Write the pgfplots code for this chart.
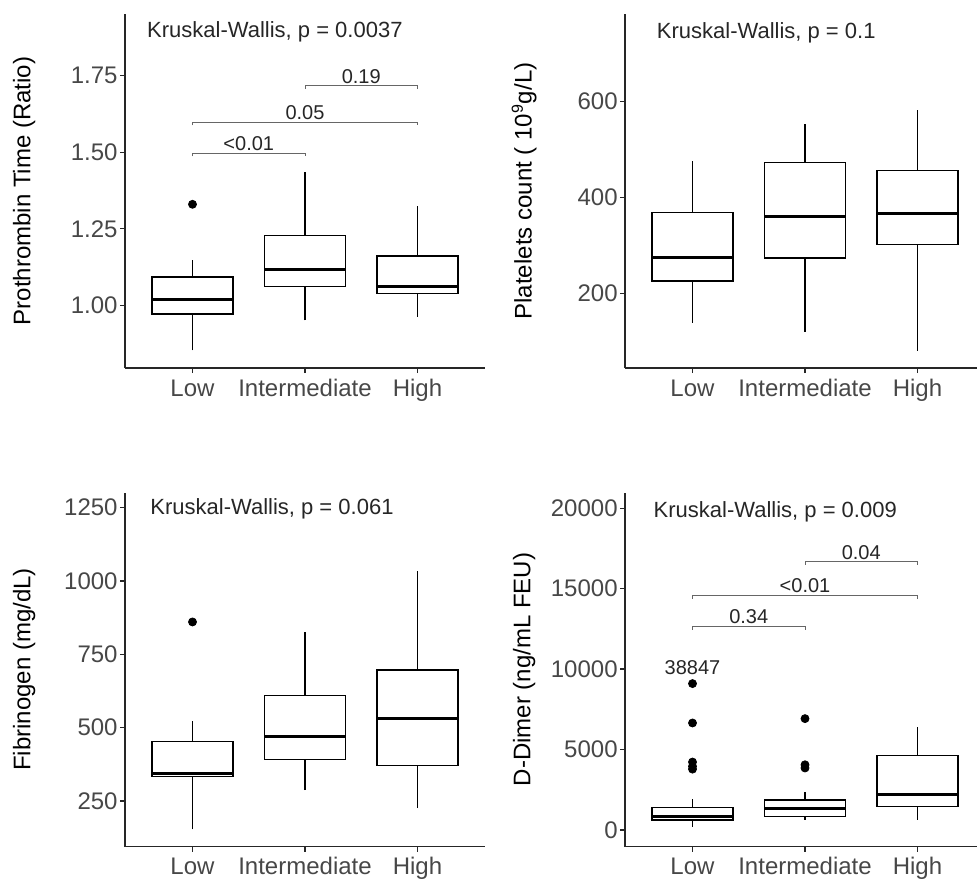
\documentclass[border=0pt]{standalone}
\usepackage{fontspec}
\setmainfont{Liberation Sans}
\usepackage{pgfplots}
\pgfplotsset{compat=1.18}

\pgfplotsset{
  panel/.style={
    scale only axis, width=180pt, height=177pt,
    axis x line*=bottom, axis y line*=left,
    axis line style={line width=0.7pt, black!85},
    tick align=outside, major tick length=2.5pt,
    tick style={line width=0.7pt, black!85},
    xmin=0.4, xmax=3.6, xtick={1,2,3}, xticklabels={Low,Intermediate,High},
    ticklabel style={font=\fontsize{12}{14}\selectfont, text=black!72},
    xticklabel style={text height=8.8pt, text depth=0pt, inner ysep=2.5pt},
    yticklabel style={inner xsep=1pt},
    every axis y label/.style={at={(axis description cs:-0.28,0.5)}, rotate=90, anchor=center,
      font=\fontsize{12}{14}\selectfont},
    /pgf/number format/assume math mode=true,
    /pgf/number format/1000 sep={},
    scaled y ticks=false,
    clip=false,
  },
  bx/.style={black, line width=0.7pt, solid, mark=none},
  med/.style={black, line width=1.5pt, solid, mark=none},
  outl/.style={only marks, mark=*, mark size=2pt, black},
  brk/.style={black!60, line width=0.5pt, mark=none},
}
\tikzset{
  kw/.style={anchor=west, font=\fontsize{11}{13}\selectfont, text=black!85},
  pv/.style={anchor=south, inner sep=1pt, font=\fontsize{10}{12}\selectfont, text=black!85},
}
% box: left, centre, right, lower whisker, Q1, median, Q3, upper whisker
\newcommand{\bxp}[8]{%
  \addplot[bx, line cap=rect] coordinates {(#1,#5) (#3,#5) (#3,#7) (#1,#7) (#1,#5)};
  \addplot[bx] coordinates {(#2,#4) (#2,#5)};
  \addplot[bx] coordinates {(#2,#7) (#2,#8)};
  \addplot[med] coordinates {(#1,#6) (#3,#6)};
}

\begin{document}
\begin{tikzpicture}
\useasboundingbox (0,0) rectangle (488.5pt,439.5pt);

% Prothrombin time
\begin{axis}[panel, at={(62.5pt,255.5pt)}, anchor=south west,
  ymin=0.795, ymax=1.952, ytick={1,1.25,1.5,1.75},
  yticklabel style={/pgf/number format/.cd, fixed, fixed zerofill, precision=2},
  ylabel={Prothrombin Time (Ratio)}]
  \bxp{0.64}{1}{1.36}{0.853}{0.972}{1.02}{1.092}{1.147}
  \bxp{1.64}{2}{2.36}{0.951}{1.062}{1.118}{1.228}{1.435}
  \bxp{2.64}{3}{3.36}{0.962}{1.038}{1.06}{1.161}{1.326}
  \addplot[outl] coordinates {(1,1.33)};
  \addplot[brk] coordinates {(1,1.487) (1,1.497) (2,1.497) (2,1.487)};
  \addplot[brk] coordinates {(1,1.588) (1,1.598) (3,1.598) (3,1.588)};
  \addplot[brk] coordinates {(2,1.707) (2,1.717) (3,1.717) (3,1.707)};
  \node[pv] at (axis cs:1.5,1.497) {<0.01};
  \node[pv] at (axis cs:2,1.598) {0.05};
  \node[pv] at (axis cs:2.5,1.717) {0.19};
  \node[kw] at (rel axis cs:0.042,0.949) {Kruskal-Wallis, p = 0.0037};
\end{axis}

% Platelets
\begin{axis}[panel, at={(312.5pt,255.5pt)}, anchor=south west,
  ymin=45, ymax=782, ytick={200,400,600},
  ylabel={Platelets count ( 10\textsuperscript{9}g/L)}]
  \bxp{0.64}{1}{1.36}{139}{226}{275}{369}{477}
  \bxp{1.64}{2}{2.36}{120}{274}{361}{473}{553}
  \bxp{2.64}{3}{3.36}{81}{302}{366}{456}{583}
  \node[kw] at (rel axis cs:0.069,0.948) {Kruskal-Wallis, p = 0.1};
\end{axis}

% Fibrinogen
\begin{axis}[panel, at={(62.5pt,16.2pt)}, anchor=south west,
  ymin=94, ymax=1301, ytick={250,500,750,1000,1250},
  ylabel={Fibrinogen (mg/dL)}]
  \bxp{0.64}{1}{1.36}{153}{333}{343}{453}{521}
  \bxp{1.64}{2}{2.36}{287}{392}{470}{610}{827}
  \bxp{2.64}{3}{3.36}{225}{370}{532}{696}{1034}
  \addplot[outl] coordinates {(1,860)};
  \node[kw] at (rel axis cs:0.051,0.953) {Kruskal-Wallis, p = 0.061};
\end{axis}

% D-Dimer
\begin{axis}[panel, at={(312.5pt,16.2pt)}, anchor=south west,
  ymin=-1040, ymax=20978, ytick={0,5000,10000,15000,20000},
  yticklabel style={/pgf/number format/fixed},
  ylabel={D-Dimer (ng/mL FEU)}]
  \bxp{0.64}{1}{1.36}{206}{623}{830}{1390}{1910}
  \bxp{1.64}{2}{2.36}{623}{830}{1350}{1870}{2330}
  \bxp{2.64}{3}{3.36}{623}{1450}{2220}{4610}{6400}
  \addplot[outl] coordinates {(1,9100) (1,6650) (1,4220) (1,3950) (1,3780)};
  \addplot[outl] coordinates {(2,6920) (2,4050) (2,3850)};
  \addplot[brk] coordinates {(1,12460) (1,12660) (2,12660) (2,12460)};
  \addplot[brk] coordinates {(1,14380) (1,14580) (3,14580) (3,14380)};
  \addplot[brk] coordinates {(2,16480) (2,16680) (3,16680) (3,16480)};
  \node[pv] at (axis cs:1.5,12660) {0.34};
  \node[pv] at (axis cs:2,14580) {<0.01};
  \node[pv] at (axis cs:2.5,16680) {0.04};
  \node[font=\fontsize{10}{12}\selectfont, text=black!85] at (axis cs:1,10075) {38847};
  \node[kw] at (rel axis cs:0.06,0.945) {Kruskal-Wallis, p = 0.009};
\end{axis}
\end{tikzpicture}
\end{document}
